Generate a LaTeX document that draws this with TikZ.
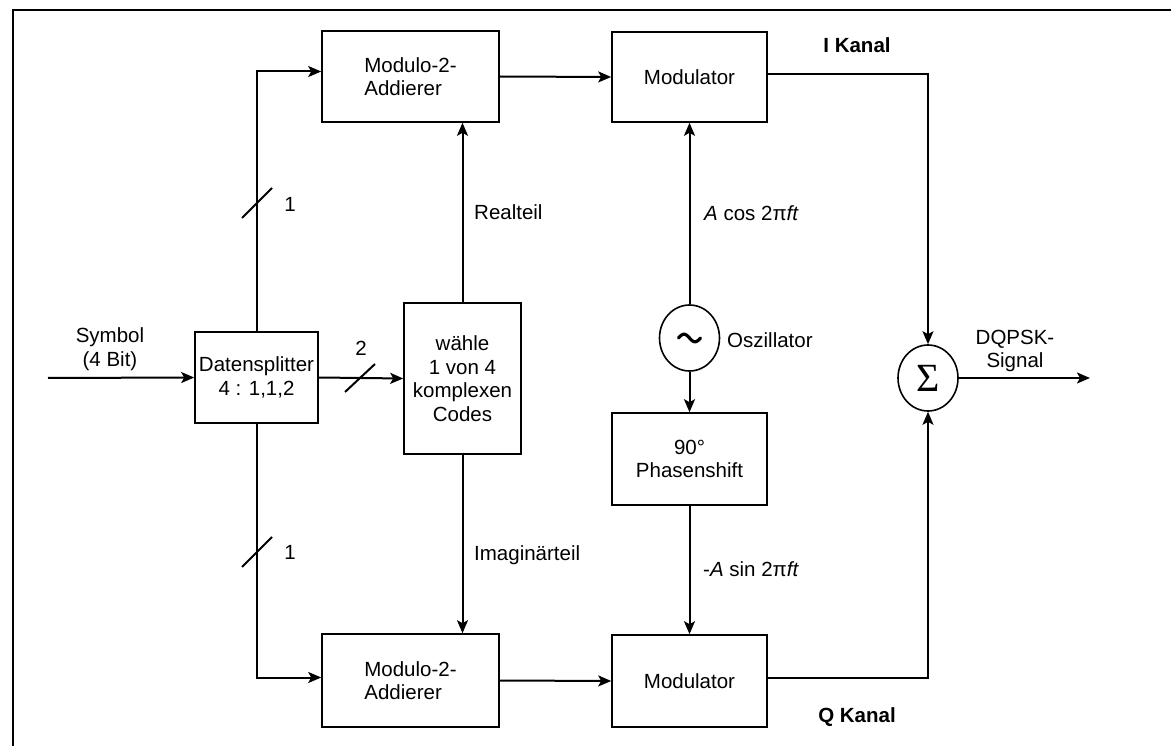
\documentclass[tikz,border=0pt]{standalone}
\usepackage{fontspec}
\setmainfont{Liberation Sans}
\newfontfamily\sigfont{Liberation Serif}
\usetikzlibrary{arrows.meta,shapes.geometric}
\begin{document}
\begin{tikzpicture}[x=1pt,y=-1pt,
  every node/.style={font=\fontsize{20.5}{23.5}\selectfont},
  blk/.style={draw, line width=1.6pt, inner sep=0pt},
  rnd/.style={draw, ellipse, line width=1.6pt, minimum width=60pt, minimum height=66pt, inner sep=0pt},
  conn/.style={line width=2pt, -{Stealth[length=13pt,width=11pt,inset=3pt]}},
  tick/.style={line width=2pt},
  lbl/.style={inner sep=0pt},
  bold/.style={inner sep=0pt, font=\fontsize{20.5}{23.5}\selectfont\bfseries}]
\useasboundingbox (0,0) rectangle (1171,746);
\fill[white] (0,0) rectangle (1171,746);
% frame
\draw[line width=2.8pt] (1171,10) -- (13,10) -- (13,746);

% blocks
\node[blk, minimum width=177pt, minimum height=91pt, align=left] (mt) at (410.5,76.5) {Modulo-2-\\Addierer};
\node[blk, minimum width=177pt, minimum height=93pt, align=left] (mb) at (410.5,680.5) {Modulo-2-\\Addierer};
\node[blk, minimum width=123pt, minimum height=91pt, align=center] (ds) at (256.5,377.5) {Datensplitter\\4 : 1,1,2};
\node[blk, minimum width=117pt, minimum height=151pt, align=center] (wa) at (462.5,378.5) {wähle\\1 von 4\\komplexen\\Codes};
\node[blk, minimum width=155pt, minimum height=90pt] (modt) at (689.5,77) {Modulator};
\node[blk, minimum width=155pt, minimum height=92pt, align=center] (ps) at (689.5,459) {90°\\Phasenshift};
\node[blk, minimum width=155pt, minimum height=92pt] (modb) at (689.5,681) {Modulator};
\node[rnd] (osc) at (689.5,338) {};
\node[rnd] (sum) at (928,378) {\sigfont\fontsize{40}{40}\selectfont Σ};
\draw[line width=3.2pt, line cap=round, shift={(osc.center)}, domain=-11:11, samples=40, smooth] plot (\x, {3.8*sin(\x*180/11)});

% free ends
\coordinate (in) at (48,378);
\coordinate (out) at (1090,378);

% connectors
\draw[conn] (in) -- (ds.west);
\draw[conn] (ds.north) |- ([yshift=5pt]mt.west);
\draw[conn] (ds.south) |- ([yshift=3pt]mb.west);
\draw[conn] (ds.east) -- (wa.west);
\draw[conn] (wa.north) -- (wa.north |- mt.south);
\draw[conn] (wa.south) -- (wa.south |- mb.north);
\draw[conn] (mt.east) -- (modt.west);
\draw[conn] (mb.east) -- (modb.west);
\draw[conn] (osc.north) -- (modt.south);
\draw[conn] (osc.south) -- (ps.north);
\draw[conn] (ps.south) -- (modb.north);
\draw[conn] ([yshift=3pt]modt.east) -| (sum.north);
\draw[conn] ([yshift=3pt]modb.east) -| (sum.south);
\draw[conn] (sum.east) -- (out);

% bus ticks
\draw[tick] (242,218) -- (272,188);
\draw[tick] (242,567) -- (272,537);
\draw[tick] (345,392) -- (375,364);

% labels
\node[lbl, align=center] (lsym) at (110,349) {Symbol\\(4 Bit)};
\node[lbl] (l1a) at (290,204) {1};
\node[lbl] (l1b) at (290,552) {1};
\node[lbl] (l2) at (361,348) {2};
\node[lbl, anchor=west] (lre) at (474,212) {Realteil};
\node[lbl, anchor=west] (lim) at (474,555) {Imaginärteil};
\node[lbl, anchor=west] (lcos) at (704,213) {\textit{A} cos 2π\textit{ft}};
\node[lbl, anchor=west] (lsin) at (703,569) {-\textit{A} sin 2π\textit{ft}};
\node[lbl, anchor=west] (losc) at (727,340) {Oszillator};
\node[bold] (lik) at (857,45) {I Kanal};
\node[bold] (lqk) at (857,717) {Q Kanal};
\node[lbl, align=center] (ldq) at (1015,351) {DQPSK-\\Signal};
\end{tikzpicture}
\end{document}
